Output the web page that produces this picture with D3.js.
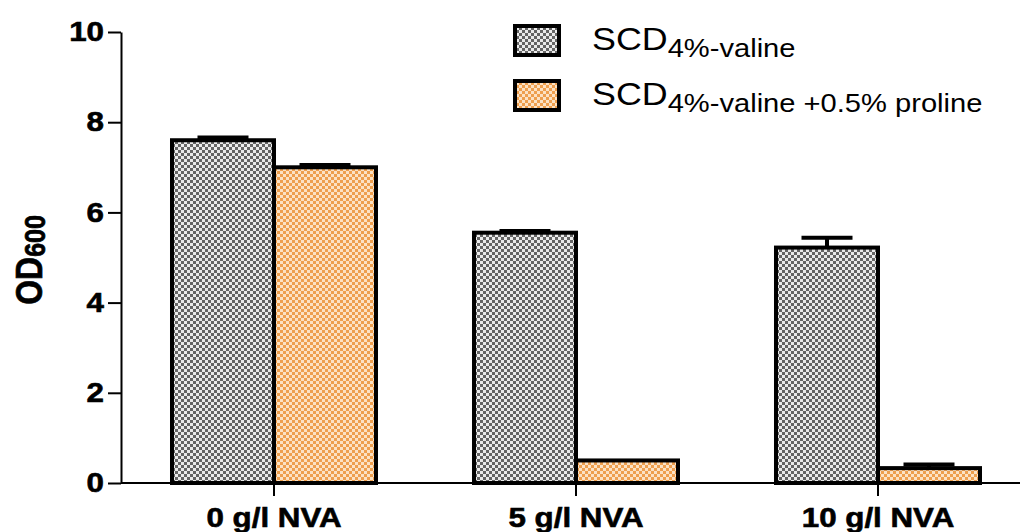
<!DOCTYPE html>
<html>
<head>
<meta charset="utf-8">
<script src="https://cdn.jsdelivr.net/npm/d3@7"></script>
<style>
  body { margin: 0; background: #fff; }
  svg { display: block; font-family: "Liberation Sans", Arial, sans-serif; }
</style>
</head>
<body>
<svg width="1020" height="532"></svg>
<script>
// *** DATA ***
const categories = ["0 g/l NVA", "5 g/l NVA", "10 g/l NVA"];
const seriesKeys = ["valine", "proline"];
const valineValues = [7.6, 5.55, 5.22];
const valineErrors = [0.06, 0.04, 0.22];
const prolineValues = [7.0, 0.5, 0.33];
const prolineErrors = [0.05, 0, 0.08];
const yTicks = [0, 2, 4, 6, 8, 10];

const svg = d3.select("svg");
const width = +svg.attr("width");
const stretch = 1.16; // text in the original is a bit wide

const patterns = {
    valine: { dark: "#666666", light: "#ececec" },
    proline: { dark: "#ee9f4e", light: "#fce2c4" }
};

const defs = svg.append("defs");
Object.entries(patterns).forEach(([key, c]) => {
    const p = defs.append("pattern")
        .attr("id", "chk-" + key)
        .attr("patternUnits", "userSpaceOnUse")
        .attr("width", 6)
        .attr("height", 6);
    p.append("rect").attr("width", 6).attr("height", 6).attr("fill", c.light);
    p.append("rect").attr("width", 3).attr("height", 3).attr("fill", c.dark);
    p.append("rect").attr("x", 3).attr("y", 3).attr("width", 3).attr("height", 3).attr("fill", c.dark);
});

const rows = categories.map((cat, i) => ({
    cat,
    bars: [
        { key: "valine", value: valineValues[i], err: valineErrors[i] },
        { key: "proline", value: prolineValues[i], err: prolineErrors[i] }
    ]
}));

const axisX = 121;
const y = d3.scaleLinear().domain([0, 10]).range([483, 32]);
const x0 = d3.scaleBand().domain(categories).range([123, 1029])
    .paddingInner(0.3245).paddingOuter(0.16225);
const x1 = d3.scaleBand().domain(seriesKeys).range([0, x0.bandwidth()]);

function boldLabel(sel) {
    sel.attr("font-size", 27)
        .attr("font-weight", "bold")
        .attr("font-family", "Liberation Sans, Arial, sans-serif")
        .attr("fill", "#000")
        .attr("stroke", "#000")
        .attr("stroke-width", 0.6);
}

// y axis
const yAxis = svg.append("g")
    .attr("transform", `translate(${axisX},0)`)
    .call(d3.axisLeft(y).tickValues(yTicks).tickSize(13).tickSizeOuter(0));
yAxis.select(".domain").attr("stroke-width", 2);
yAxis.selectAll(".tick line").attr("stroke-width", 2);
yAxis.selectAll(".tick text")
    .attr("x", -17 / stretch)
    .attr("transform", `scale(${stretch},1)`)
    .call(boldLabel);

// x axis
const xAxis = svg.append("g")
    .attr("transform", `translate(0,${y(0)})`)
    .call(d3.axisBottom(x0).tickSize(13).tickSizeOuter(0));
xAxis.select(".domain").remove();
xAxis.append("line")
    .attr("x1", axisX).attr("x2", width)
    .attr("stroke", "#000").attr("stroke-width", 2);
xAxis.selectAll(".tick line").attr("stroke-width", 2);
xAxis.selectAll(".tick text")
    .attr("y", 25)
    .attr("transform", `scale(${stretch},1)`)
    .call(boldLabel);

// bars
const group = svg.selectAll(".grp")
    .data(rows)
    .enter().append("g")
    .attr("class", "grp")
    .attr("transform", d => `translate(${x0(d.cat)},0)`);

group.selectAll("rect")
    .data(d => d.bars)
    .enter().append("rect")
    .attr("x", d => x1(d.key))
    .attr("y", d => y(d.value))
    .attr("width", x1.bandwidth())
    .attr("height", d => y(0) - y(d.value))
    .attr("fill", d => `url(#chk-${d.key})`)
    .attr("stroke", "#000")
    .attr("stroke-width", 4);

const errs = group.selectAll(".err")
    .data(d => d.bars.filter(b => b.err > 0))
    .enter().append("g")
    .attr("class", "err")
    .attr("stroke", "#000")
    .attr("stroke-width", 4);
errs.append("line")
    .attr("x1", d => x1(d.key) + x1.bandwidth() / 2)
    .attr("x2", d => x1(d.key) + x1.bandwidth() / 2)
    .attr("y1", d => y(d.value))
    .attr("y2", d => y(d.value + d.err));
errs.append("line")
    .attr("x1", d => x1(d.key) + x1.bandwidth() / 4)
    .attr("x2", d => x1(d.key) + x1.bandwidth() * 3 / 4)
    .attr("y1", d => y(d.value + d.err))
    .attr("y2", d => y(d.value + d.err));

// y label
const ylab = svg.append("text")
    .attr("transform", `translate(42,260) rotate(-90) scale(1,${stretch})`)
    .attr("text-anchor", "middle")
    .attr("font-weight", "bold")
    .attr("stroke", "#000")
    .attr("stroke-width", 0.6);
ylab.append("tspan").attr("font-size", 32).text("OD");
ylab.append("tspan").attr("font-size", 25).attr("dy", 3).text("600");

// legend
const legendLabels = ["4%-valine", "4%-valine +0.5% proline"];
const legend = svg.selectAll(".leg")
    .data(seriesKeys)
    .enter().append("g")
    .attr("class", "leg")
    .attr("transform", (d, i) => `translate(0,${i * 55})`);

legend.append("rect")
    .attr("x", 515).attr("y", 26)
    .attr("width", 44).attr("height", 29)
    .attr("fill", d => `url(#chk-${d})`)
    .attr("stroke", "#000")
    .attr("stroke-width", 4);

const legText = legend.append("text")
    .attr("transform", `translate(592,50) scale(1.12,1)`)
    .attr("fill", "#000");
legText.append("tspan").attr("font-size", 32).text("SCD");
legText.append("tspan").attr("font-size", 26).attr("dy", 7)
    .text((d, i) => legendLabels[i]);
</script>
</body>
</html>
